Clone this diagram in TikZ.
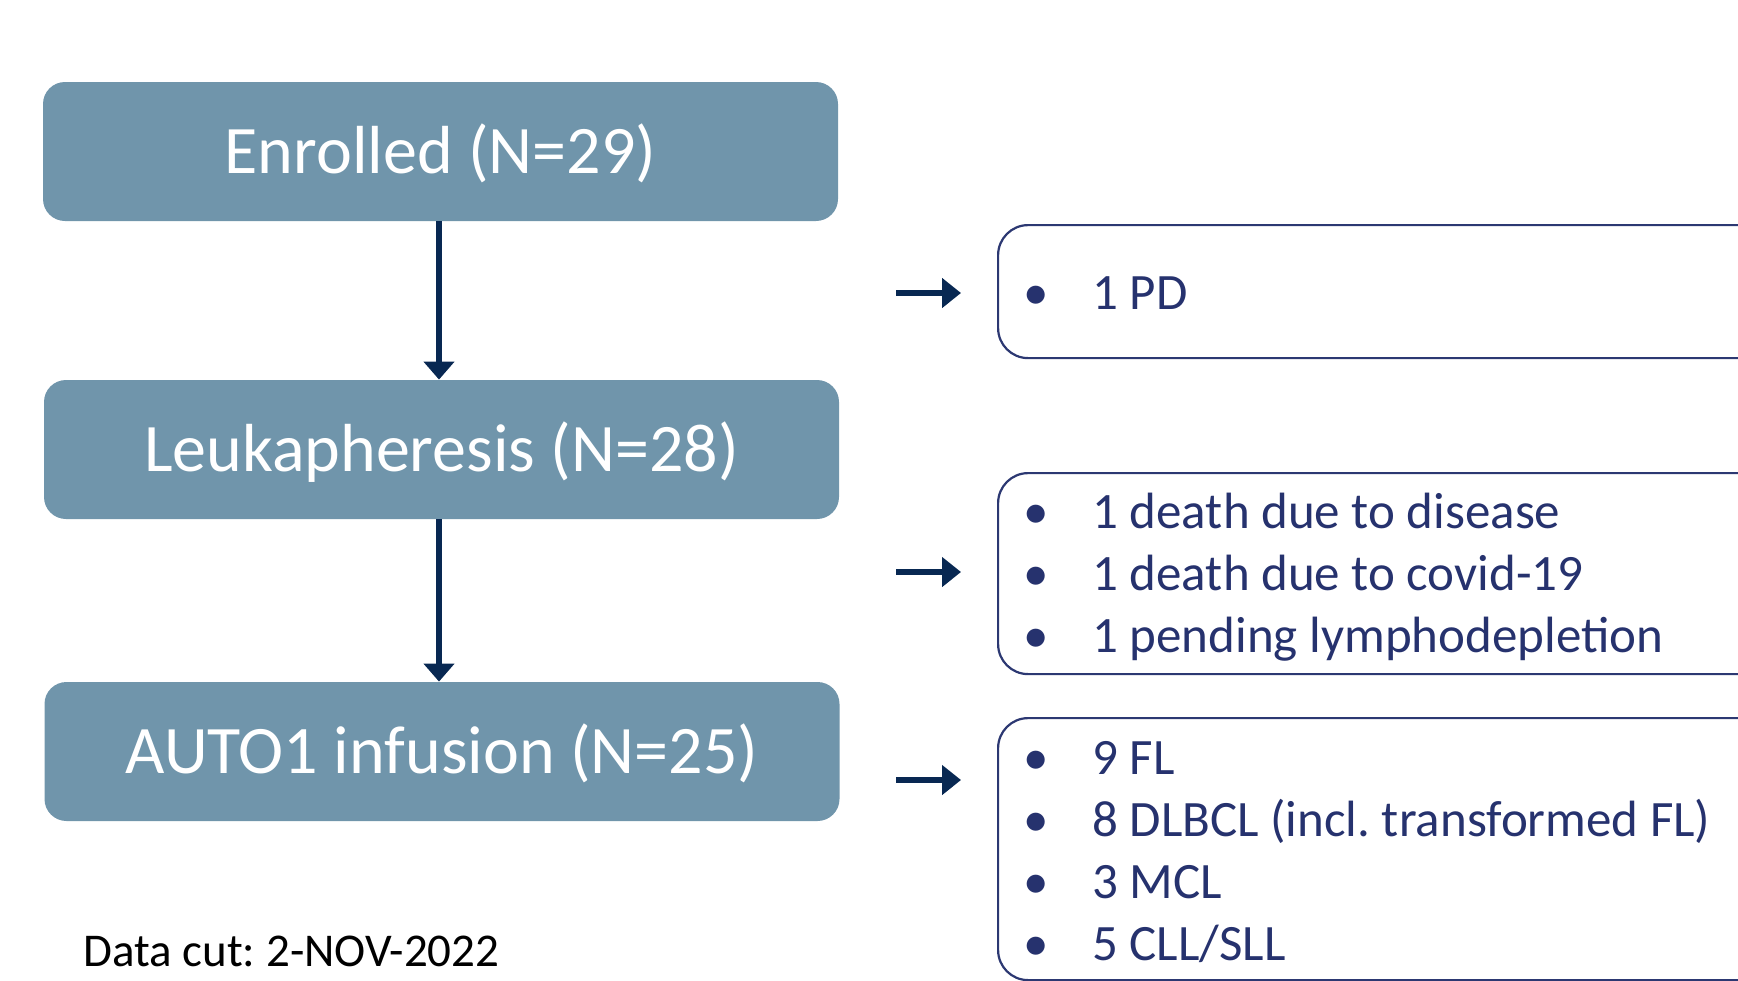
\documentclass[tikz,border=0pt]{standalone}
\usepackage{fontspec}
\setmainfont{Carlito}
\usetikzlibrary{arrows.meta}
\definecolor{boxblue}{RGB}{112,149,171}
\definecolor{arrnavy}{RGB}{8,40,82}
\definecolor{listnavy}{RGB}{38,50,110}
\definecolor{bordernavy}{RGB}{44,56,114}
\newcommand{\bulletmark}{\makebox[10pt][c]{•}\hspace{23pt}}
\frenchspacing
\begin{document}
\begin{tikzpicture}[x=0.5pt,y=-0.5pt,
  stagebox/.style={rectangle, rounded corners=11pt, fill=boxblue, text=white,
    minimum width=397.5pt, minimum height=69.5pt, inner sep=0pt,
    font=\fontsize{34}{40}\selectfont, text height=22pt, text depth=0pt},
  listbox/.style={rectangle, rounded corners=15pt, draw=bordernavy, line width=1.1pt,
    anchor=north west, inner sep=0pt, minimum width=390pt},
  listline/.style={anchor=base west, inner sep=0pt, text=listnavy,
    font=\fontsize{25.5}{31}\selectfont},
  flow/.style={draw=arrnavy, line width=3pt, -{Triangle[length=9pt,width=15pt]}},
  side/.style={draw=arrnavy, line width=3pt, -{Triangle[length=9.5pt,width=14.5pt]}, shorten >=18pt},
]
\useasboundingbox (0,0) rectangle (1738,980);
\clip (0,0) rectangle (1738,980);

% stage boxes
\node[stagebox] (e1) at (440.5,151.5) {Enrolled (N=29)};
\node[stagebox] (e2) at (441.5,449.5) {Leukapheresis (N=28)};
\node[stagebox] (e3) at (442,751.5) {AUTO1 infusion (N=25)};

\draw[flow] ([xshift=-0.75pt]e1.south) -- ([xshift=-0.75pt]e1.south |- e2.north);
\draw[flow] ([xshift=-1.25pt]e2.south) -- ([xshift=-1.25pt]e2.south |- e3.north);

% list boxes
\node[listbox, minimum height=66.5pt] (bA) at (997,224) {};
\node[listbox, minimum height=100.5pt] (bB) at (997,472) {};
\node[listbox, minimum height=131pt] (bC) at (997,717) {};

\node[listline] (l1) at (1026,309) {\bulletmark 1 PD};
\node[listline] (l2) at (1026,528) {\bulletmark 1 death due to disease};
\node[listline] (l3) at (1026,590) {\bulletmark 1 death due to covid-19};
\node[listline] (l4) at (1026,652) {\bulletmark 1 pending lymphodepletion};
\node[listline] (l5) at (1026,774) {\bulletmark 9 FL};
\node[listline] (l6) at (1026,836) {\bulletmark 8 DLBCL (incl. transformed FL)};
\node[listline] (l7) at (1026,898) {\bulletmark 3 MCL};
\node[listline] (l8) at (1026,960) {\bulletmark 5 CLL/SLL};

% side arrows
\coordinate (sA) at (896,293);
\coordinate (sB) at (896,572);
\coordinate (sC) at (896,780);
\draw[side] (sA) -- (sA -| bA.west);
\draw[side] (sB) -- (sB -| bB.west);
\draw[side] (sC) -- (sC -| bC.west);

\node[anchor=base west, inner sep=0pt, text=black, font=\fontsize{23.5}{28}\selectfont] (dc) at (83,966) {Data cut: 2-NOV-2022};
\end{tikzpicture}
\end{document}
